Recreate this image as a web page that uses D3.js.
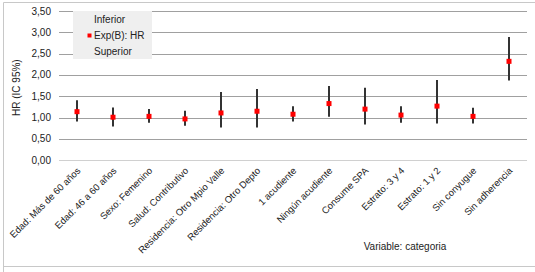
<!DOCTYPE html>
<html>
<head>
<meta charset="utf-8">
<script src="https://cdn.jsdelivr.net/npm/d3@7"></script>
<style>
  body { margin: 0; background: #fff; }
  svg { display: block; font-family: "Liberation Sans", Arial, sans-serif; }
</style>
</head>
<body>
<div id="chart"></div>
<script>
const categories = [
  "Edad: Más de 60 años", "Edad: 46 a 60 años", "Sexo: Femenino",
  "Salud: Contributivo", "Residencia: Otro Mpio Valle", "Residencia: Otro Depto",
  "1 acudiente", "Ningún acudiente", "Consume SPA", "Estrato: 3 y 4",
  "Estrato: 1 y 2", "Sin conyugue", "Sin adherencia"
];
const hr       = [1.14, 1.01, 1.03, 0.97, 1.11, 1.15, 1.08, 1.33, 1.20, 1.06, 1.27, 1.03, 2.32];
const inferior = [0.91, 0.79, 0.88, 0.81, 0.77, 0.77, 0.91, 1.02, 0.84, 0.88, 0.86, 0.86, 1.87];
const superior = [1.41, 1.24, 1.20, 1.16, 1.60, 1.67, 1.27, 1.74, 1.70, 1.27, 1.88, 1.23, 2.89];
const yTicks = [0, 0.5, 1, 1.5, 2, 2.5, 3, 3.5];

const width = 535, height = 272;
const plot = { left: 59, right: 527, top: 11, bottom: 160.3 };

const svg = d3.select("#chart").append("svg")
  .attr("width", width)
  .attr("height", height);

// outer frame
svg.append("path")
  .attr("d", `M3.5,${height} V2.5 H${width}`)
  .attr("fill", "none").attr("stroke", "#c8c8c8");
svg.append("line")
  .attr("x1", 3).attr("x2", width).attr("y1", 266.5).attr("y2", 266.5)
  .attr("stroke", "#c8c8c8");

const x = d3.scaleBand().domain(categories).range([plot.left, plot.right]);
const y = d3.scaleLinear().domain([0, 3.5]).range([plot.bottom, plot.top]);
const fmt = d => d3.format(".2f")(d).replace(".", ",");

// grid lines
svg.append("g").selectAll("line").data(yTicks).join("line")
  .attr("x1", plot.left).attr("x2", plot.right)
  .attr("y1", d => Math.round(y(d)) + 0.5).attr("y2", d => Math.round(y(d)) + 0.5)
  .attr("stroke", d => d === 0 ? "#d0d0d0" : "#a0a0a0");

// y labels
svg.append("g").selectAll("text").data(yTicks).join("text")
  .attr("x", 51).attr("y", d => y(d)).attr("dy", "0.35em")
  .attr("text-anchor", "end").attr("font-size", 10).attr("fill", "#222")
  .text(fmt);

svg.append("text")
  .attr("transform", `translate(20,${(plot.top + plot.bottom) / 2 + 2}) rotate(-90)`)
  .attr("text-anchor", "middle").attr("font-size", 10).attr("fill", "#222")
  .text("HR (IC 95%)");

// x labels
svg.append("g").selectAll("text").data(categories).join("text")
  .attr("transform", d => `translate(${x(d) + x.bandwidth() / 2 + 4},${plot.bottom + 11}) rotate(-45)`)
  .attr("text-anchor", "end").attr("font-size", 9.5).attr("fill", "#222")
  .text(d => d);

svg.append("text")
  .attr("x", 405).attr("y", 250)
  .attr("text-anchor", "middle").attr("font-size", 10).attr("fill", "#222")
  .text("Variable: categoria");

// error bars
const cx = i => x(categories[i]) + x.bandwidth() / 2;
svg.append("g").selectAll("line").data(categories).join("line")
  .attr("x1", (d, i) => cx(i)).attr("x2", (d, i) => cx(i))
  .attr("y1", (d, i) => y(inferior[i])).attr("y2", (d, i) => y(superior[i]))
  .attr("stroke", "#333").attr("stroke-width", 2);

// points
svg.append("g").selectAll("rect").data(categories).join("rect")
  .attr("x", (d, i) => cx(i) - 2.5).attr("y", (d, i) => y(hr[i]) - 2.5)
  .attr("width", 5).attr("height", 5)
  .attr("fill", "#ff0000");

// legend
const legend = svg.append("g");
legend.append("rect")
  .attr("x", 73).attr("y", 11).attr("width", 79).attr("height", 48)
  .attr("fill", "#efefef");
const legendItems = ["Inferior", "Exp(B): HR", "Superior"];
legend.selectAll("text").data(legendItems).join("text")
  .attr("x", 94).attr("y", (d, i) => 19 + i * 16).attr("dy", "0.35em")
  .attr("font-size", 10).attr("fill", "#222")
  .text(d => d);
legend.append("rect")
  .attr("x", 87.5).attr("y", 33.5).attr("width", 4).attr("height", 4)
  .attr("fill", "#ff0000");
</script>
</body>
</html>
